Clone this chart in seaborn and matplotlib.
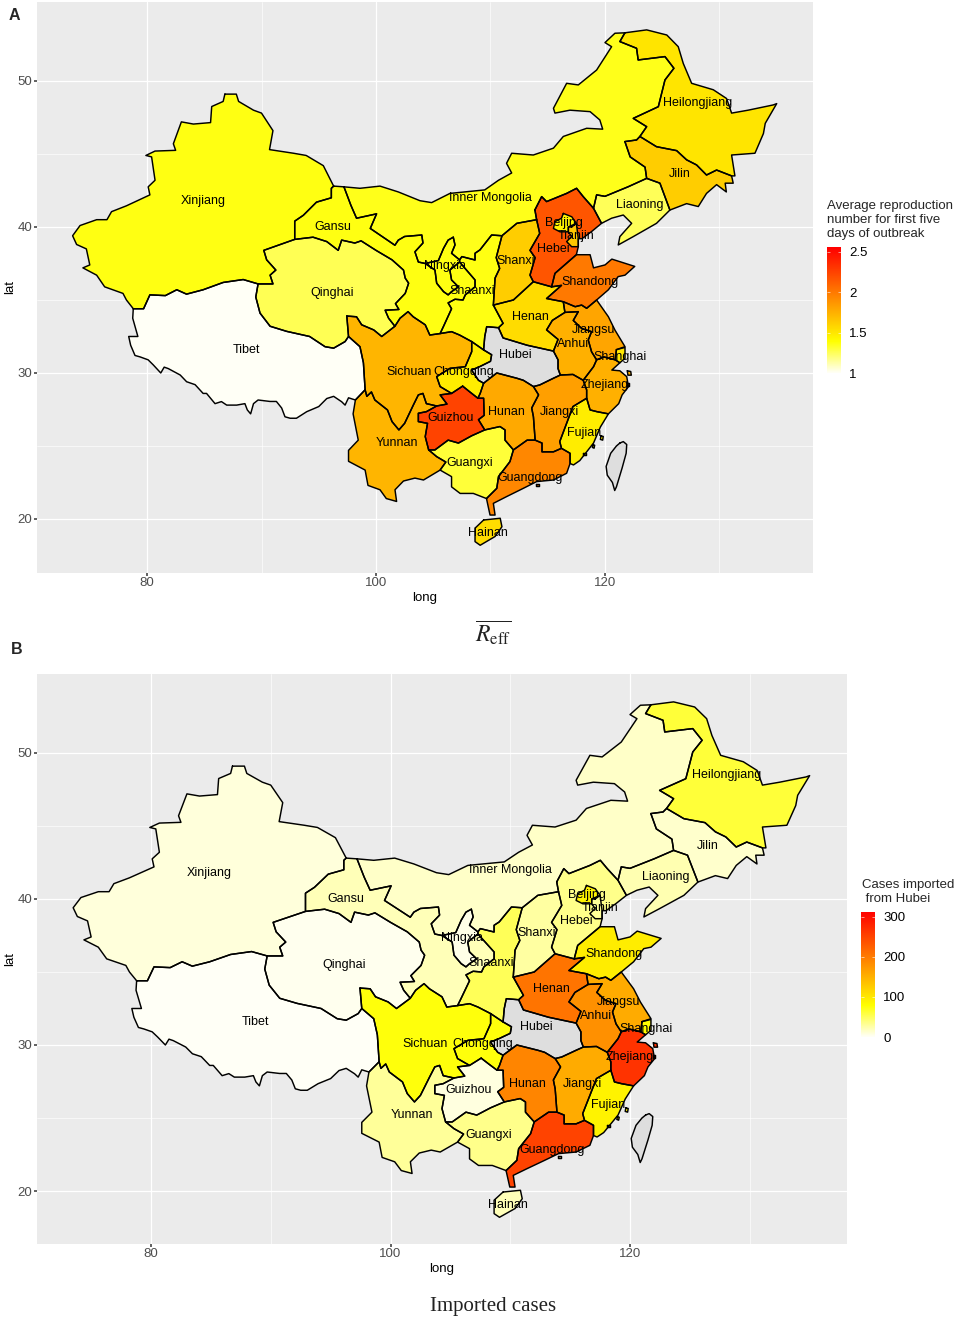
import matplotlib
matplotlib.use("Agg")
import matplotlib.pyplot as plt
import numpy as np
import pandas as pd
import seaborn as sns

# province outlines, (long, lat)
XINJIANG = [(86.8,49.1),(87.8,49.1),(88.0,48.6),(89.3,48.0),(90.0,47.8),(90.5,47.2),(91.0,46.6),(90.7,45.3),(92.8,45.05),(93.9,44.9),(95.4,44.2),(96.3,42.8),(96.1,42.65),(96.1,42.0),(94.8,41.7),(93.65,40.8),(92.9,40.4),(92.9,39.15),(90.2,38.4),(90.45,37.75),(91.25,37.05),(90.75,36.7),(91.0,36.1),(89.7,36.1),(88.4,36.4),(86.65,36.2),(84.9,35.7),(83.45,35.4),(82.6,35.7),(81.6,35.3),(80.25,35.35),(79.7,34.4),(78.8,34.4),(78.2,35.0),(77.9,35.45),(76.3,35.9),(75.6,36.7),(74.4,37.2),(75.0,37.4),(74.7,38.5),(73.85,38.8),(73.5,39.4),(74.15,40.1),(75.6,40.5),(76.5,40.5),(76.9,41.05),(78.2,41.45),(80.25,42.2),(80.1,42.75),(80.7,43.2),(80.4,44.8),(79.9,44.9),(80.7,45.2),(82.5,45.25),(82.3,45.7),(83.0,47.2),(84.05,47.05),(85.55,47.15),(85.65,48.25),(86.65,48.6)]
TIBET = [(78.8,34.4),(79.7,34.4),(80.25,35.35),(81.6,35.3),(82.6,35.7),(83.45,35.4),(84.9,35.7),(86.65,36.2),(88.4,36.4),(89.7,36.1),(89.5,35.2),(89.87,34.1),(90.75,33.2),(92.2,32.85),(94.2,32.5),(95.55,31.8),(96.3,31.7),(97.3,32.15),(97.6,32.5),(98.6,31.8),(98.9,30.7),(99.05,28.85),(98.2,28.15),(97.6,28.3),(97.3,27.8),(97.0,28.03),(96.3,28.4),(95.7,28.25),(95.0,27.7),(93.95,27.35),(93.05,26.9),(92.5,26.9),(92.05,27.0),(91.76,27.6),(91.3,28.05),(90.74,28.05),(89.7,28.15),(89.3,27.9),(89.05,27.2),(88.76,27.47),(88.55,27.9),(87.83,27.8),(86.96,27.8),(86.5,28.04),(85.94,27.9),(85.2,28.6),(84.9,28.6),(84.2,29.2),(83.46,29.4),(82.9,29.86),(81.86,30.3),(81.5,30.4),(81.2,30.0),(80.55,30.55),(80.1,30.9),(79.4,31.1),(78.95,31.2),(78.57,31.9),(78.4,32.5),(79.2,32.5),(78.75,33.75)]
QINGHAI = [(89.7,36.1),(91.0,36.1),(90.75,36.7),(91.25,37.05),(90.45,37.75),(90.2,38.4),(92.9,39.15),(94.5,39.3),(95.7,39.0),(96.7,38.4),(97.0,39.1),(98.15,38.9),(98.7,39.05),(100.0,38.4),(101.4,37.75),(102.4,37.05),(102.55,36.5),(102.85,36.15),(102.55,35.45),(101.7,34.75),(102.0,34.35),(100.8,34.3),(101.1,33.75),(101.65,33.2),(100.5,32.5),(99.8,32.95),(98.75,33.3),(98.3,33.85),(97.45,33.9),(97.6,32.5),(97.3,32.15),(96.3,31.7),(95.55,31.8),(94.2,32.5),(92.2,32.85),(90.75,33.2),(89.87,34.1),(89.5,35.2)]
GANSU = [(96.3,42.8),(97.2,42.75),(97.8,41.5),(98.3,40.6),(100.05,40.9),(99.5,39.9),(101.0,39.1),(101.65,38.75),(101.95,39.1),(102.5,39.35),(104.0,39.45),(104.1,38.9),(103.4,38.3),(103.7,37.6),(104.3,37.5),(105.15,37.05),(105.3,36.15),(105.9,35.57),(106.3,35.35),(106.6,35.57),(107.2,35.9),(106.6,36.37),(106.45,37.05),(107.3,37.6),(108.65,36.37),(108.65,35.9),(107.8,35.35),(107.6,35.0),(106.9,35.05),(106.3,34.8),(106.6,34.4),(105.9,33.2),(105.6,32.7),(104.7,32.6),(104.3,33.3),(103.25,33.85),(102.8,34.2),(102.1,33.75),(101.65,33.2),(101.1,33.75),(100.8,34.3),(102.0,34.35),(101.7,34.75),(102.55,35.45),(102.85,36.15),(102.55,36.5),(102.4,37.05),(101.4,37.75),(100.0,38.4),(98.7,39.05),(98.15,38.9),(97.0,39.1),(96.7,38.4),(95.7,39.0),(94.5,39.3),(92.9,39.15),(92.9,40.4),(93.65,40.8),(94.8,41.7),(96.1,42.0),(96.1,42.65)]
INNER_MONGOLIA = [(97.2,42.75),(98.6,42.65),(100.35,42.8),(101.95,42.4),(103.84,41.8),(104.86,41.67),(106.46,42.3),(109.5,42.54),(110.7,43.2),(111.85,43.7),(111.4,44.36),(111.85,45.05),(113.74,44.93),(115.5,45.4),(116.36,46.2),(118.4,46.76),(119.8,46.7),(119.55,47.33),(118.7,47.9),(116.94,48.0),(115.63,47.8),(115.5,48.13),(116.65,49.84),(117.67,49.73),(119.27,50.75),(120.58,52.35),(120.0,52.63),(120.87,53.27),(121.74,53.3),(121.3,52.7),(122.76,52.24),(122.9,51.44),(125.24,51.67),(126.02,50.87),(125.24,50.07),(124.66,48.24),(122.47,47.44),(123.64,46.87),(123.05,46.2),(122.76,45.96),(121.74,45.85),(122.2,44.8),(123.5,44.1),(123.64,43.33),(122.04,42.76),(120.0,42.1),(119.27,42.2),(119.0,41.28),(118.1,42.08),(117.52,42.65),(116.65,42.3),(114.9,41.74),(114.47,42.08),(113.88,41.17),(114.03,40.5),(112.3,40.25),(111.0,39.4),(110.1,39.45),(109.08,38.43),(108.65,38.2),(108.65,37.74),(107.5,37.97),(107.3,37.75),(106.6,38.2),(106.9,38.77),(106.75,39.3),(106.3,39.1),(105.9,38.54),(105.45,37.7),(104.3,37.5),(103.7,37.6),(103.4,38.3),(104.1,38.9),(104.0,39.45),(102.5,39.35),(101.95,39.1),(101.65,38.75),(101.0,39.1),(99.5,39.9),(100.05,40.9),(98.3,40.6),(97.8,41.5)]
HEILONGJIANG = [(121.74,53.3),(123.64,53.5),(125.4,53.15),(126.4,52.35),(126.84,51.2),(127.57,49.84),(129.46,49.4),(130.62,48.8),(131.06,47.8),(132.5,48.0),(134.7,48.36),(135.0,48.45),(134.0,47.1),(133.84,46.4),(133.1,45.05),(131.06,44.93),(131.35,43.5),(131.06,43.5),(129.75,43.9),(128.87,43.56),(128.0,44.25),(127.13,44.6),(126.26,45.23),(124.5,45.5),(123.05,46.2),(123.64,46.87),(122.47,47.44),(124.66,48.24),(125.24,50.07),(126.02,50.87),(125.24,51.67),(122.9,51.44),(122.76,52.24),(121.3,52.7)]
JILIN = [(121.74,45.85),(122.76,45.96),(123.05,46.2),(124.5,45.5),(126.26,45.23),(127.13,44.6),(128.0,44.25),(128.87,43.56),(129.75,43.9),(131.06,43.5),(131.2,43.0),(130.5,43.0),(130.6,42.4),(129.75,42.9),(128.87,42.3),(128.15,41.4),(127.13,41.6),(125.67,41.16),(124.8,43.0),(123.64,43.33),(123.5,44.1),(122.2,44.8)]
LIAONING = [(119.0,41.28),(119.27,42.2),(120.0,42.1),(122.04,42.76),(123.64,43.33),(124.8,43.0),(125.67,41.16),(124.5,40.25),(122.47,39.34),(121.16,38.77),(121.3,39.34),(122.33,40.25),(121.6,40.82),(120.58,40.6),(119.7,40.25)]
HEBEI = [(113.88,41.17),(114.47,42.08),(114.9,41.74),(116.65,42.3),(117.52,42.65),(118.1,42.08),(119.0,41.28),(119.7,40.25),(118.85,39.7),(118.0,39.2),(117.67,39.2),(117.67,38.65),(117.5,38.1),(115.63,36.82),(115.34,35.9),(113.74,36.25),(113.45,36.7),(113.9,37.9),(113.45,38.4),(114.3,39.56),(114.03,40.5)]
BEIJING = [(116.36,40.93),(117.1,40.7),(117.5,40.25),(116.8,40.0),(116.8,39.67),(116.07,39.67),(115.5,39.9),(115.63,40.36),(116.2,40.6)]
TIANJIN = [(117.09,40.0),(117.5,40.25),(117.67,39.2),(117.67,38.65),(117.09,38.65),(116.65,39.0),(117.09,39.35),(116.8,39.67),(116.8,40.0)]
SHANXI = [(114.03,40.5),(112.3,40.25),(111.0,39.4),(110.5,37.9),(110.8,37.16),(110.4,36.5),(110.25,34.65),(112.0,35.0),(113.74,36.25),(113.45,36.7),(113.9,37.9),(113.45,38.4),(114.3,39.56)]
NINGXIA = [(106.75,39.3),(106.9,38.77),(106.6,38.2),(107.3,37.75),(107.3,37.6),(106.45,37.05),(106.6,36.37),(107.2,35.9),(106.6,35.57),(106.3,35.35),(105.9,35.57),(105.3,36.15),(105.15,37.05),(104.3,37.5),(105.45,37.7),(105.9,38.54),(106.3,39.1)]
SHAANXI = [(111.0,39.4),(110.5,37.9),(110.8,37.16),(110.4,36.5),(110.25,34.65),(111.1,33.4),(110.7,33.1),(109.67,33.17),(109.5,32.5),(109.4,31.58),(108.36,32.15),(107.3,32.6),(106.6,32.83),(105.6,32.7),(105.9,33.2),(106.6,34.4),(106.3,34.8),(106.9,35.05),(107.6,35.0),(107.8,35.35),(108.65,35.9),(108.65,36.37),(107.3,37.6),(107.3,37.75),(107.5,37.97),(108.65,37.74),(108.65,38.2),(109.08,38.43),(110.1,39.45)]
HENAN = [(110.25,34.65),(112.0,35.0),(113.74,36.25),(115.34,35.9),(116.2,36.0),(114.9,35.1),(116.36,34.88),(116.5,34.15),(115.4,33.6),(114.9,32.95),(115.9,32.3),(115.5,31.5),(113.2,31.9),(111.1,32.4),(110.7,33.1),(111.1,33.4)]
SHANDONG = [(115.34,35.9),(115.63,36.82),(117.5,38.1),(118.7,38.1),(119.0,37.2),(120.0,37.4),(120.6,37.8),(122.6,37.3),(121.75,36.7),(121.15,36.6),(120.3,35.7),(119.27,35.0),(118.4,34.43),(117.96,34.65),(117.4,34.54),(116.36,34.88),(114.9,35.1),(116.2,36.0)]
JIANGSU = [(116.36,34.88),(117.4,34.54),(117.96,34.65),(118.4,34.43),(119.27,35.0),(120.3,33.85),(120.87,32.94),(121.75,31.8),(121.0,31.6),(120.9,30.9),(119.9,31.1),(119.27,30.9),(118.83,31.45),(118.54,32.26),(118.83,32.83),(117.96,33.05),(117.23,33.6),(117.67,34.2),(116.5,34.15)]
SHANGHAI = [(121.0,31.6),(121.75,31.75),(121.75,31.0),(121.3,30.7),(120.9,30.9)]
ANHUI = [(116.5,34.15),(117.67,34.2),(117.23,33.6),(117.96,33.05),(118.83,32.83),(118.54,32.26),(118.83,31.45),(119.27,30.9),(119.0,30.43),(118.1,29.5),(117.2,29.9),(116.1,29.86),(115.9,30.3),(115.9,30.9),(115.5,31.5),(115.9,32.3),(114.9,32.95),(115.4,33.6)]
ZHEJIANG = [(118.1,29.5),(119.0,30.43),(119.27,30.9),(119.9,31.1),(120.9,30.9),(121.3,30.7),(120.6,30.2),(121.3,30.15),(121.9,29.75),(122.05,29.06),(121.5,28.5),(121.2,27.9),(120.3,27.2),(119.3,27.35),(118.7,27.47),(118.4,28.27),(118.4,28.84)]
FUJIAN = [(118.4,28.27),(118.7,27.47),(119.3,27.35),(120.3,27.2),(119.6,26.3),(119.0,25.2),(117.8,24.0),(117.25,23.7),(116.95,23.8),(116.95,24.5),(116.2,24.84),(116.05,25.3),(116.65,26.55),(117.2,27.7)]
JIANGXI = [(113.75,29.07),(114.3,29.18),(115.5,29.64),(116.1,29.86),(117.2,29.9),(118.1,29.5),(118.4,28.84),(118.4,28.27),(117.2,27.7),(116.65,26.55),(116.05,25.3),(116.2,24.84),(115.5,24.6),(114.5,24.6),(114.5,25.2),(113.9,25.4),(113.75,27.0),(113.6,27.6),(114.2,28.5)]
HUBEI = [(109.4,31.58),(109.5,32.5),(109.67,33.17),(110.7,33.1),(111.1,32.4),(113.2,31.9),(115.5,31.5),(115.9,30.9),(115.9,30.3),(116.1,29.86),(115.5,29.64),(114.3,29.18),(113.75,29.07),(112.87,29.5),(112.3,29.64),(110.55,30.0),(109.4,29.3),(108.95,29.5),(108.35,30.2),(109.1,30.45),(110.0,30.8),(110.1,31.25)]
HUNAN = [(109.4,29.3),(110.55,30.0),(112.3,29.64),(112.87,29.5),(113.75,29.07),(114.2,28.5),(113.6,27.6),(113.75,27.0),(113.9,25.4),(113.2,25.4),(112.0,24.73),(111.27,25.4),(111.27,26.1),(110.83,26.33),(109.5,26.1),(108.95,26.8),(109.45,27.1),(109.4,28.27),(108.9,28.27),(109.1,28.6)]
CHONGQING = [(108.36,32.15),(109.4,31.58),(110.1,31.25),(110.0,30.8),(109.1,30.45),(108.35,30.2),(108.95,29.5),(109.4,29.3),(109.1,28.6),(108.9,28.27),(108.2,28.7),(107.57,29.1),(106.6,28.6),(105.6,29.07),(105.3,29.75),(106.47,30.32),(107.8,30.43),(108.36,31.46)]
SICHUAN = [(97.45,33.9),(98.3,33.85),(98.75,33.3),(99.8,32.95),(100.5,32.5),(101.65,33.2),(102.1,33.75),(102.8,34.2),(103.25,33.85),(104.3,33.3),(104.7,32.6),(105.6,32.7),(106.6,32.83),(107.3,32.6),(108.36,32.15),(108.36,31.46),(107.8,30.43),(106.47,30.32),(105.3,29.75),(105.6,29.07),(106.6,28.6),(105.6,28.5),(106.2,27.87),(105.3,27.74),(104.4,27.9),(104.1,28.6),(103.7,28.5),(103.26,27.8),(102.5,26.55),(102.0,26.1),(101.4,26.67),(101.0,27.47),(99.9,28.15),(99.6,28.7),(99.2,28.4),(99.05,28.85),(98.9,30.7),(98.6,31.8),(97.6,32.5)]
GUIZHOU = [(107.57,29.1),(108.2,28.7),(108.9,28.27),(109.4,28.27),(109.45,27.1),(108.95,26.8),(109.5,26.1),(108.36,25.7),(107.2,25.2),(106.3,25.4),(105.15,24.73),(104.6,24.73),(104.3,25.64),(104.5,26.55),(103.7,26.67),(103.7,27.24),(104.4,27.35),(105.3,27.74),(106.2,27.87),(105.6,28.5),(106.6,28.6)]
YUNNAN = [(99.05,28.85),(99.2,28.4),(99.6,28.7),(99.9,28.15),(101.0,27.47),(101.4,26.67),(102.0,26.1),(102.5,26.55),(103.26,27.8),(103.7,28.5),(104.1,28.6),(104.4,27.9),(105.3,27.74),(104.4,27.35),(103.7,27.24),(103.7,26.67),(104.5,26.55),(104.3,25.64),(104.6,24.73),(105.3,24.27),(106.1,23.9),(105.6,23.35),(104.15,22.67),(103.4,22.8),(102.4,22.6),(101.66,22.0),(101.8,21.2),(100.9,21.4),(100.35,22.0),(99.3,22.3),(99.05,23.35),(97.6,23.95),(97.6,24.7),(98.45,25.4),(98.0,27.2),(98.2,28.15)]
GUANGXI = [(104.6,24.73),(105.3,24.27),(106.1,23.9),(105.6,23.35),(106.6,22.9),(106.6,22.2),(107.35,21.75),(108.5,21.75),(109.65,21.4),(110.55,22.1),(110.7,22.9),(111.7,23.93),(112.0,24.73),(111.27,25.4),(111.27,26.1),(110.83,26.33),(109.5,26.1),(108.36,25.7),(107.2,25.2),(106.3,25.4),(105.15,24.73)]
GUANGDONG = [(109.65,21.4),(109.8,20.85),(109.96,20.27),(110.4,20.27),(110.25,21.07),(111.4,21.53),(112.87,22.1),(114.03,22.56),(115.5,22.67),(116.65,23.13),(116.95,23.8),(116.95,24.5),(116.2,24.84),(115.5,24.6),(114.5,24.6),(114.5,25.2),(113.9,25.4),(113.2,25.4),(112.0,24.73),(111.7,23.93),(110.7,22.9),(110.55,22.1)]
HAINAN = [(109.4,19.93),(110.85,20.05),(111.0,19.47),(110.4,18.8),(109.1,18.2),(108.65,18.45),(108.65,19.37)]
TAIWAN = [(121.3,25.2),(121.6,25.3),(121.9,25.1),(121.85,24.5),(121.5,23.5),(121.0,22.2),(120.85,21.95),(120.65,22.5),(120.2,23.0),(120.1,23.6),(120.5,24.5),(121.0,25.0)]
HONG_KONG = [(114.0,22.42),(114.27,22.42),(114.27,22.27),(114.0,22.27)]
# small coastal islands, they print as black blobs at this scale
ZHOUSHAN = [(121.95,30.15),(122.25,30.1),(122.3,29.85),(122.0,29.85)]
XIANGSHAN = [(121.9,29.3),(122.1,29.3),(122.1,29.1),(121.9,29.1)]
PINGTAN = [(119.65,25.7),(119.85,25.65),(119.8,25.4),(119.6,25.45)]
QUANZHOU = [(118.95,25.1),(119.1,25.05),(119.05,24.85),(118.9,24.9)]
XIAMEN = [(118.1,24.55),(118.35,24.55),(118.35,24.35),(118.1,24.35)]

provinces = ["Xinjiang", "Tibet", "Qinghai", "Gansu", "Inner Mongolia", "Heilongjiang", "Jilin", "Liaoning",
             "Hebei", "Beijing", "Tianjin", "Shanxi", "Ningxia", "Shaanxi", "Henan", "Shandong", "Jiangsu",
             "Shanghai", "Anhui", "Zhejiang", "Fujian", "Jiangxi", "Hubei", "Hunan", "Chongqing", "Sichuan",
             "Guizhou", "Yunnan", "Guangxi", "Guangdong", "Hainan", "Taiwan", "Hong Kong",
             "Zhoushan", "Xiangshan", "Pingtan", "Quanzhou", "Xiamen"]
outlines = [XINJIANG, TIBET, QINGHAI, GANSU, INNER_MONGOLIA, HEILONGJIANG, JILIN, LIAONING,
            HEBEI, BEIJING, TIANJIN, SHANXI, NINGXIA, SHAANXI, HENAN, SHANDONG, JIANGSU,
            SHANGHAI, ANHUI, ZHEJIANG, FUJIAN, JIANGXI, HUBEI, HUNAN, CHONGQING, SICHUAN,
            GUIZHOU, YUNNAN, GUANGXI, GUANGDONG, HAINAN, TAIWAN, HONG_KONG,
            ZHOUSHAN, XIANGSHAN, PINGTAN, QUANZHOU, XIAMEN]

# same order as provinces, nan = no data
reff = [1.36, 1.0, 1.26, 1.36, 1.35, 1.51, 1.62, 1.25,
        2.17, 1.45, 1.65, 1.62, 1.36, 1.36, 1.55, 2.0, 1.8,
        1.5, 1.75, 1.75, 1.47, 1.83, np.nan, 1.78, 1.47, 1.73,
        2.25, 1.73, 1.3, 1.94, 1.55, np.nan, 1.94,
        1.75, 1.75, 1.47, 1.47, 1.47]
imported = [9, 1, 3, 20, 15, 60, 14, 22,
            35, 90, 30, 28, 5, 50, 205, 95, 155,
            80, 180, 265, 90, 155, np.nan, 190, 75, 75,
            8, 30, 35, 250, 20, np.nan, 30,
            265, 265, 90, 90, 90]

# label anchors (long, lat), Hong Kong and Taiwan carry no label
label_names = ["Xinjiang", "Tibet", "Qinghai", "Gansu", "Inner Mongolia", "Heilongjiang", "Jilin", "Liaoning",
               "Beijing", "Tianjin", "Hebei", "Shanxi", "Ningxia", "Shaanxi", "Shandong", "Henan", "Jiangsu",
               "Anhui", "Shanghai", "Hubei", "Sichuan", "Chongqing", "Zhejiang", "Hunan", "Guizhou", "Jiangxi",
               "Fujian", "Yunnan", "Guangxi", "Guangdong", "Hainan"]
label_long = [84.9, 88.7, 96.15, 96.25, 110.0, 128.1, 126.5, 123.0,
              116.4, 117.5, 115.5, 112.2, 106.0, 108.4, 118.7, 113.45, 119.0,
              117.2, 121.3, 112.2, 102.9, 107.7, 120.0, 111.4, 106.55, 116.0,
              118.15, 101.8, 108.2, 113.45, 109.8]
label_lat = [41.8, 31.6, 35.5, 40.0, 42.0, 48.5, 43.65, 41.5,
             40.3, 39.4, 38.5, 37.7, 37.3, 35.6, 36.2, 33.85, 32.95,
             32.0, 31.1, 31.2, 30.1, 30.1, 29.2, 27.3, 26.9, 27.3,
             25.9, 25.2, 23.85, 22.8, 19.05]

sns.set_theme(style="darkgrid", rc={
    "axes.facecolor": "#EBEBEB", "grid.color": "white", "axes.edgecolor": "none",
    "xtick.bottom": True, "ytick.left": True, "xtick.color": "#4D4D4D", "ytick.color": "#4D4D4D",
    "xtick.major.size": 2.2, "ytick.major.size": 2.2, "axes.linewidth": 0,
})
plt.rcParams["font.family"] = ["Liberation Sans", "DejaVu Sans"]
plt.rcParams["mathtext.fontset"] = "stix"

heat = sns.blend_palette(["#FFFFF6", "#FFFF00", "#FFAA00", "#FF5500", "#FF0000"], as_cmap=True)
W, H = 957, 1319
fig = plt.figure(figsize=(W / 100, H / 100), dpi=100)


def box(left, top, right, bottom):
    return [left / W, 1 - bottom / H, (right - left) / W, (bottom - top) / H]


# one row per outline vertex, like a fortified map frame
rows = []
for name, outline in zip(provinces, outlines):
    for lon, lat in outline + outline[:1]:
        rows.append({"province": name, "long": lon, "lat": lat})
china = pd.DataFrame(rows)


def draw_map(ax, values, vmin, vmax, xlim, ylim):
    for name, outline, value in zip(provinces, outlines, values):
        pts = np.array(outline)
        color = "#DEDEDE" if np.isnan(value) else heat((value - vmin) / (vmax - vmin))
        ax.fill(pts[:, 0], pts[:, 1], color=color, lw=0, zorder=2)
    sns.lineplot(data=china, x="long", y="lat", units="province", estimator=None, sort=False,
                 color="black", lw=1.05, ax=ax, zorder=3, legend=False)
    for name, lon, lat in zip(label_names, label_long, label_lat):
        ax.text(lon, lat, name, ha="center", va="center", fontsize=9, color="black", zorder=4)
    ax.set_xlim(*xlim)
    ax.set_ylim(*ylim)
    ax.set_xticks([80, 100, 120])
    ax.set_yticks([20, 30, 40, 50])
    ax.set_xticks([90, 110, 130], minor=True)
    ax.set_yticks([25, 35, 45], minor=True)
    ax.grid(which="major", color="white", lw=0.9)
    ax.grid(which="minor", color="white", lw=0.45)
    ax.tick_params(which="minor", length=0)
    ax.tick_params(which="major", labelsize=9.5, pad=1)
    ax.set_xlabel("long", fontsize=9.5, color="black", labelpad=2)
    ax.set_ylabel("lat", fontsize=9.5, color="black", labelpad=1)
    ax.set_axisbelow(True)


def draw_bar(cax, vmin, vmax, ticks, ticklabels):
    grad = np.linspace(vmin, vmax, 200).reshape(-1, 1)
    cax.imshow(grad, origin="lower", aspect="auto", cmap=heat, extent=[0, 1, vmin, vmax])
    cax.grid(False)
    cax.set_xticks([])
    cax.set_yticks(ticks)
    cax.set_yticklabels(ticklabels, fontsize=9.5, color="black")
    cax.yaxis.tick_right()
    cax.tick_params(axis="y", length=0, pad=6)
    cax.hlines(ticks, 0, 0.2, color="white", lw=0.4)
    cax.hlines(ticks, 0.8, 1, color="white", lw=0.4)
    for s in cax.spines.values():
        s.set_visible(False)


ax_a = fig.add_axes(box(37, 2, 813, 573))
draw_map(ax_a, reff, 1.0, 2.56, (70.39, 138.17), (16.3, 55.41))
ax_b = fig.add_axes(box(37, 674, 847, 1244))
draw_map(ax_b, imported, 0, 312, (70.48, 138.12), (16.37, 55.41))

draw_bar(fig.add_axes(box(827, 247, 841, 373)), 1.0, 2.56, [1, 1.5, 2, 2.5], ["1", "1.5", "2", "2.5"])
draw_bar(fig.add_axes(box(861, 912, 875, 1037)), 0, 312, [0, 100, 200, 300], ["0", "100", "200", "300"])

fig.text(827 / W, 1 - 200 / H, "Average reproduction\nnumber for first five\ndays of outbreak",
         fontsize=9.5, va="top", ha="left", linespacing=1.22)
fig.text(862 / W, 1 - 879 / H, "Cases imported\n from Hubei", fontsize=9.5, va="top", ha="left", linespacing=1.22)

fig.text(14 / W, 1 - 15 / H, "A", fontsize=11.5, fontweight="bold", ha="center", va="center")
fig.text(17 / W, 1 - 649 / H, "B", fontsize=11.5, fontweight="bold", ha="center", va="center")

fig.text(493 / W, 1 - 633 / H, r"$\overline{R_{\mathrm{eff}}}$", fontsize=17, ha="center", va="center", color="#222222")
fig.text(493 / W, 1 - 1306 / H, "Imported cases", fontsize=15, family="Liberation Serif", ha="center", va="center", color="#222222")

fig.savefig("out.png", dpi=100)
